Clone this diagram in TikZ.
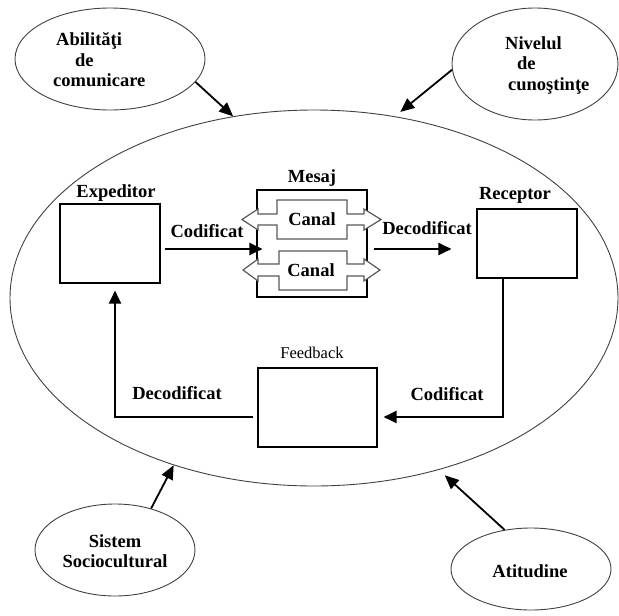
\documentclass[tikz,border=0pt]{standalone}
\usepackage{fontspec}
\setmainfont{Liberation Serif}
\usetikzlibrary{shapes.geometric,arrows.meta,calc}
\begin{document}
\begin{tikzpicture}[x=1pt,y=-1pt,
  ell/.style={ellipse,draw=black!75,line width=0.9pt,inner sep=0pt},
  box/.style={draw=black,line width=1.1pt,inner sep=0pt},
  lbl/.style={font=\fontsize{18.5}{20.5}\selectfont\bfseries,inner sep=0pt},
  flow/.style={line width=2pt,-{Triangle[length=13pt,width=12pt]}},
  earrow/.style={line width=1.8pt,-{Triangle[length=14pt,width=12pt]}},
  canalshape/.style={draw=black!65,line width=1.2pt,fill=white,line join=miter}
]
\useasboundingbox (0,0) rectangle (619,616);

% outer ellipse and factor ellipses
\node[ell,minimum width=608pt,minimum height=376pt] (big) at (314,298) {};
\node[ell,minimum width=190pt,minimum height=102pt] (abil) at (110,59) {};
\node[ell,minimum width=166pt,minimum height=112pt] (niv) at (535,64) {};
\node[ell,minimum width=160pt,minimum height=92pt] (sist) at (115,550) {};
\node[ell,minimum width=160pt,minimum height=82pt] (atit) at (531,569) {};

\node[lbl,align=left,anchor=west] (abiltxt) at (53,60) {\hspace*{3pt}Abilităţi\\\hspace*{22pt}de\\comunicare};
\node[lbl,align=left,anchor=west] (nivtxt) at (505,65) {Nivelul\\\hspace*{12pt}de\\\hspace*{3pt}cunoştinţe};
\node[lbl,align=center] (sisttxt) at (115,551) {Sistem\\Sociocultural};
\node[lbl] (atittxt) at (530,571) {Atitudine};

\draw[earrow] (abil.-15.8) -- (big.114);
\draw[earrow,shorten >=7pt] (niv.184) -- (big.66);
\draw[earrow] (sist.49) -- (big.-130);
\draw[earrow,shorten >=8pt] (atit.124.6) -- (big.-54);

% boxes
\node[box,minimum width=100pt,minimum height=79pt] (expe) at (110,243.5) {};
\node[lbl] (expelbl) at (116,193) {Expeditor};
\node[box,minimum width=100pt,minimum height=69pt] (rec) at (527,243.5) {};
\node[lbl] (reclbl) at (515,195) {Receptor};
\node[box,minimum width=110pt,minimum height=107pt] (mesaj) at (312,243.5) {};
\node[lbl] (mesajlbl) at (312,178) {Mesaj};
\node[box,minimum width=119pt,minimum height=79pt] (feed) at (317.5,407.5) {};
\node[font=\fontsize{16.5}{19}\selectfont,inner sep=0pt] (feedlbl) at (312,353) {Feedback};

% channels
\draw[canalshape] (277,200) -- (347,200) -- (347,214) -- (364,214) -- (364,209) -- (381,219.5) -- (364,230) -- (364,225) -- (347,225) -- (347,239) -- (277,239) -- (277,225) -- (258,225) -- (258,230) -- (242,219.5) -- (258,209) -- (258,214) -- (277,214) -- cycle;
\draw[canalshape] (279,251) -- (347,251) -- (347,264) -- (364,264) -- (364,259) -- (380,270) -- (364,281) -- (364,276) -- (347,276) -- (347,290) -- (279,290) -- (279,276) -- (258,276) -- (258,281) -- (243,270) -- (258,259) -- (258,264) -- (279,264) -- cycle;
\node[lbl] (canal1) at (312,219) {Canal};
\node[lbl] (canal2) at (311,270) {Canal};

% flows
\draw[flow] ($(expe.east)+(4,5.5)$) -- ($(mesaj.west)+(6,5.5)$);
\draw[flow] ($(mesaj.east)+(6,5.5)$) -- ($(rec.west)+(-25,5.5)$);
\draw[flow] ($(rec.south)+(-24,0)$) |- ($(feed.east)+(6,9.5)$);
\draw[flow] ($(feed.west)+(-4,9.5)$) -| ($(expe.south)+(5,7)$);

\node[lbl] (cod1) at (207,231) {Codificat};
\node[lbl] (dec1) at (427,228) {Decodificat};
\node[lbl] (dec2) at (177,393) {Decodificat};
\node[lbl] (cod2) at (447,394) {Codificat};
\end{tikzpicture}
\end{document}
